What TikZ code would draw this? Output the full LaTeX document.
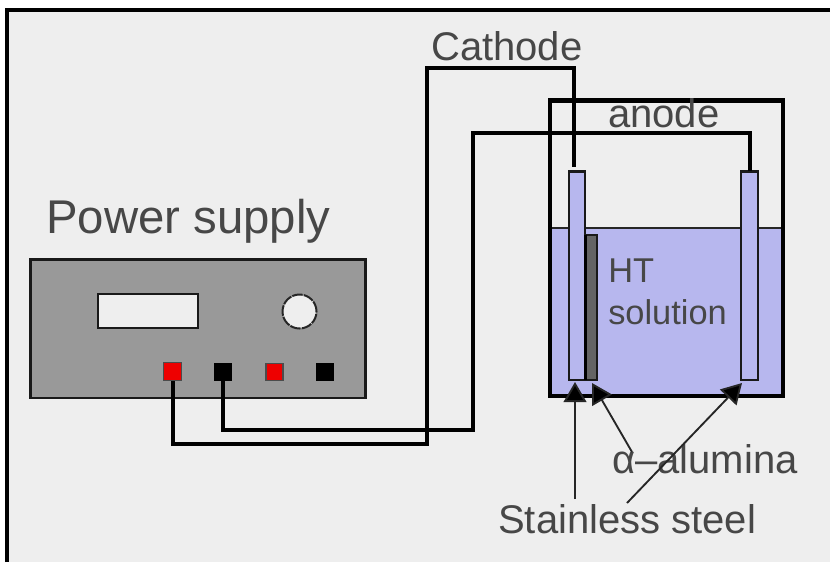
\documentclass[tikz,border=0pt]{standalone}
\usepackage{fontspec}
\setmainfont{Liberation Sans}
\usetikzlibrary{arrows.meta}
\definecolor{bgc}{RGB}{238,238,238}
\definecolor{boxc}{RGB}{153,153,153}
\definecolor{liq}{RGB}{183,183,238}
\definecolor{plate}{RGB}{100,100,100}
\definecolor{redc}{RGB}{238,0,0}
\tikzset{
  wire/.style={line width=3pt,black,line join=miter},
  thin box/.style={draw=black!90,line width=1.6pt},
  pointer/.style={line width=1.4pt,black!85,-{Triangle[length=15pt,width=17pt,fill=black]}},
  lab/.style={inner sep=0pt,anchor=base west,text=black!72},
}
\begin{document}
\begin{tikzpicture}[x=0.75pt,y=-0.75pt]
\useasboundingbox (0,0) rectangle (830,562);
\fill[white] (0,0) rectangle (830,562);
\fill[bgc] (7,10) rectangle (830,562);
\draw[line width=2.4pt,black] (7,562) -- (7,10) -- (830,10);
% power supply
\node[lab,font=\fontsize{35.5}{36}\selectfont] (ps) at (46,233) {Power supply};
\draw[thin box,fill=boxc] (30.5,259.5) rectangle (365.5,398);
\draw[thin box,fill=bgc] (98,294) rectangle (198,328);
\node[draw=black!85,line width=1.5pt,dash pattern=on 8pt off 0.8pt,fill=bgc,circle,minimum size=25.5pt,inner sep=0pt] (knob) at (299.5,311.5) {};
\node[draw=black!70,line width=1.2pt,fill=redc,minimum size=13.5pt,inner sep=0pt] (t1) at (172.5,371.5) {};
\node[draw=black,fill=black,minimum size=12.5pt,inner sep=0pt] (t2) at (223,371.5) {};
\node[draw=black!70,line width=1.2pt,fill=redc,minimum size=13pt,inner sep=0pt] (t3) at (274.5,372) {};
\node[draw=black,fill=black,minimum size=12.5pt,inner sep=0pt] (t4) at (324.5,371.5) {};
% vessel
\fill[liq] (551,229) rectangle (783,396);
\draw[line width=1.5pt,black!85] (551,228) -- (783,228);
\draw[line width=3.4pt,black] (550,396) -- (550,100.5) -- (783,100.5) -- (783,396) -- cycle;
% electrodes
\draw[thin box,fill=liq] (569,171.5) rectangle (585,380);
\draw[thin box,fill=liq] (741,171.5) rectangle (758,380);
\draw[thin box,line width=2pt,fill=plate] (586,235) rectangle (597,380);
\draw[line width=2.4pt,black] (585.5,235) -- (585.5,380);
\coordinate (cathend) at (573.5,167);
\coordinate (anodend) at (749.5,171);
% wires
\draw[wire] (t1.south) |- (426.5,443.5) -- (426.5,68) -| (cathend);
\draw[wire] (t2.south) |- (472.5,430) -- (472.5,133) -| (anodend);
% labels
\node[lab,font=\fontsize{30}{30}\selectfont] (cath) at (431,60) {Cathode};
\node[lab,font=\fontsize{30}{30}\selectfont] (an) at (608,127) {anode};
\node[lab,font=\fontsize{25.8}{26}\selectfont] (ht) at (608,282) {HT};
\node[lab,font=\fontsize{25.8}{26}\selectfont] (sol) at (608,324) {solution};
\node[lab,font=\fontsize{30}{30}\selectfont] (al) at (612,473) {α–alumina};
\node[lab,font=\fontsize{30}{30}\selectfont] (ss) at (498,533) {Stainless steel};
% pointers
\coordinate (p1s) at (575,499);
\coordinate (p1e) at (575,382);
\coordinate (p2s) at (632,452);
\coordinate (p2e) at (592,383);
\coordinate (p3s) at (627,503);
\coordinate (p3e) at (742,383);
\draw[pointer] (p1s) -- (p1e);
\draw[pointer] (p2s) -- (p2e);
\draw[pointer] (p3s) -- (p3e);
\end{tikzpicture}
\end{document}
